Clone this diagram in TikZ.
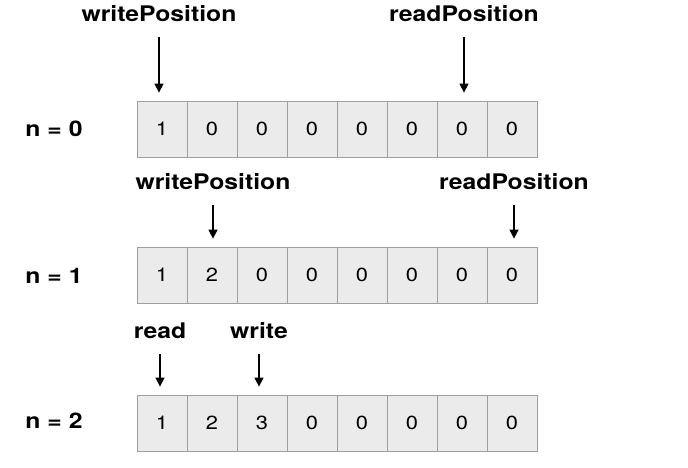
\documentclass[tikz,border=0pt]{standalone}
\usepackage{fontspec}
\setmainfont{TeX Gyre Heros}[FakeStretch=1.15]
\usetikzlibrary{arrows.meta}
\tikzset{
  cell/.style={draw=black!38, fill=black!8, line width=0.8pt, minimum width=50pt, minimum height=56pt, inner sep=0pt, font=\fontsize{19}{19}\selectfont},
  lbl/.style={inner sep=0pt, font=\fontsize{21.5}{21.5}\selectfont\bfseries},
  ptr/.style={-{Triangle[width=9pt,length=9pt]}, line width=1.4pt, shorten <=15pt, shorten >=8pt}
}
\begin{document}
\begin{tikzpicture}[x=1pt, y=-1pt]
        \useasboundingbox (0, 0) rectangle (688, 468);
        % the three states of the buffer
        \foreach \v [count=\i from 0] in {1,0,0,0,0,0,0,0}
          \node [cell] (r0c\i) at ({162+50*\i}, 129) {\v};
        \foreach \v [count=\i from 0] in {1,2,0,0,0,0,0,0}
          \node [cell] (r1c\i) at ({162+50*\i}, 275) {\v};
        \foreach \v [count=\i from 0] in {1,2,3,0,0,0,0,0}
          \node [cell] (r2c\i) at ({162+50*\i}, 423) {\v};
        \node [lbl] (n0) at (54, 129) {n = 0};
        \node [lbl] (n1) at (54, 276) {n = 1};
        \node [lbl] (n2) at (54, 421) {n = 2};
        % pointers
        \node [lbl] (wp0) at (159, 14) {writePosition};
        \node [lbl] (rp0) at (464, 14) {readPosition};
        \node [lbl] (wp1) at (213, 182) {writePosition};
        \node [lbl] (rp1) at (514, 182) {readPosition};
        \node [lbl] (rp2) at (160, 331) {read};
        \node [lbl] (wp2) at (259, 331) {write};
        \draw [ptr] (wp0.south) -- (wp0.south |- r0c0.north);
        \draw [ptr] (rp0.south) -- (rp0.south |- r0c6.north);
        \draw [ptr] (wp1.south) -- (wp1.south |- r1c1.north);
        \draw [ptr] (rp1.south) -- (rp1.south |- r1c7.north);
        \draw [ptr] (rp2.south) -- (rp2.south |- r2c0.north);
        \draw [ptr] (wp2.south) -- (wp2.south |- r2c2.north);
      \end{tikzpicture}
\end{document}
